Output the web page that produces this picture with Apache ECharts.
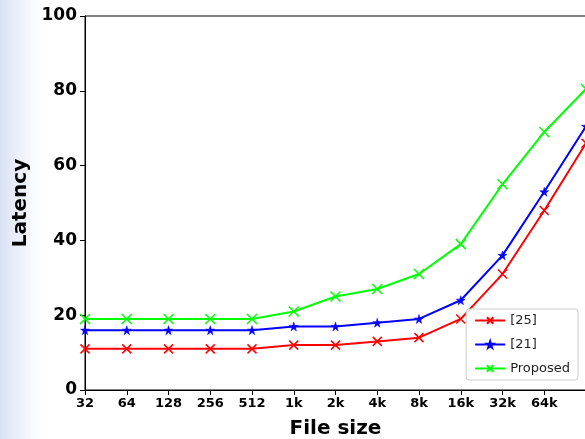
<!DOCTYPE html>
<html>
<head>
<meta charset="utf-8">
<script src="https://cdn.jsdelivr.net/npm/echarts@6/dist/echarts.min.js"></script>
<style>html,body{margin:0;padding:0;background:#fff}#c{width:585px;height:439px}</style>
</head>
<body>
<div id="c"></div>
<script>
// x tick labels (the 13th point's label is cut off in the reference)
const tickLabels = ['32','64','128','256','512','1k','2k','4k','8k','16k','32k','64k'];
const xIndex = [0,1,2,3,4,5,6,7,8,9,10,11,12];
const ref25 = [11,11,11,11,11,12,12,13,14,19,31,48,66];
const ref21 = [16,16,16,16,16,17,17,18,19,24,36,53,70.5];
const proposed = [19,19,19,19,19,21,25,27,31,39,55,69,80.5];
const yTicks = [0,20,40,60,80,100];

const pair = (arr) => arr.map((v,i) => [xIndex[i], v]);
const cross = 'path://M0,0L10,10M10,0L0,10';
const star = 'path://M50,0L61,35L98,35L68,57L79,91L50,70L21,91L32,57L2,35L39,35Z';
const font = 'DejaVu Sans';

const chart = echarts.init(document.getElementById('c'), null, {renderer:'canvas'});
chart.setOption({
  animation: false,
  backgroundColor: '#fff',
  graphic: [{
    type: 'rect', shape: {x:0, y:0, width:48, height:439}, silent: true, z: -10,
    style: {fill: new echarts.graphic.LinearGradient(0,0,1,0,[
      {offset:0, color:'rgba(185,200,235,0.55)'},
      {offset:0.5, color:'rgba(205,215,240,0.3)'},
      {offset:1, color:'rgba(255,255,255,0)'}])}
  }],
  grid: {left:85, top:16, right:-1, bottom:49, show:true, borderColor:'#000', borderWidth:1,
         backgroundColor:'transparent', containLabel:false, outerBoundsMode:'none'},
  legend: {
    orient:'vertical', right:7, bottom:59, padding:[5,8,5,8],
    backgroundColor:'rgba(255,255,255,0.85)', borderColor:'#ccc', borderWidth:1, borderRadius:3,
    itemWidth:30, itemHeight:8, itemGap:11,
    textStyle:{fontFamily:font, fontSize:13, color:'#222'}
  },
  xAxis: {
    type:'value', min:0, max:12, interval:1,
    name:'File size', nameLocation:'middle', nameGap:29,
    nameTextStyle:{fontFamily:font, fontSize:20, fontWeight:'bold', color:'#000'},
    axisLine:{lineStyle:{color:'#000', width:1}},
    axisTick:{show:true, length:5, lineStyle:{color:'#000'}},
    splitLine:{show:false},
    axisLabel:{fontFamily:font, fontSize:13, fontWeight:'bold', color:'#000', margin:7,
      formatter:(v)=> tickLabels[Math.round(v)] !== undefined ? tickLabels[Math.round(v)] : ''}
  },
  yAxis: {
    type:'value', min:yTicks[0], max:yTicks[yTicks.length-1], interval:20,
    name:'Latency', nameLocation:'middle', nameGap:50,
    nameTextStyle:{fontFamily:font, fontSize:20, fontWeight:'bold', color:'#000'},
    axisLine:{show:true, lineStyle:{color:'#000', width:1}},
    axisTick:{show:true, length:5, lineStyle:{color:'#000'}},
    splitLine:{show:false},
    axisLabel:{fontFamily:font, fontSize:17, fontWeight:'bold', color:'#000', margin:8}
  },
  series: [
    {name:'[25]', type:'line', data:pair(ref25), symbol:cross, symbolSize:9,
     lineStyle:{color:'#ff0000', width:2}, itemStyle:{color:'#ff0000', borderColor:'#ff0000', borderWidth:1.5}},
    {name:'[21]', type:'line', data:pair(ref21), symbol:star, symbolSize:9,
     lineStyle:{color:'#0000ff', width:2}, itemStyle:{color:'#0000ff', borderColor:'#0000ff', borderWidth:0.5}},
    {name:'Proposed', type:'line', data:pair(proposed), symbol:cross, symbolSize:10,
     lineStyle:{color:'#00ff00', width:2}, itemStyle:{color:'#00ff00', borderColor:'#00ff00', borderWidth:1.5}}
  ]
});
</script>
</body>
</html>
